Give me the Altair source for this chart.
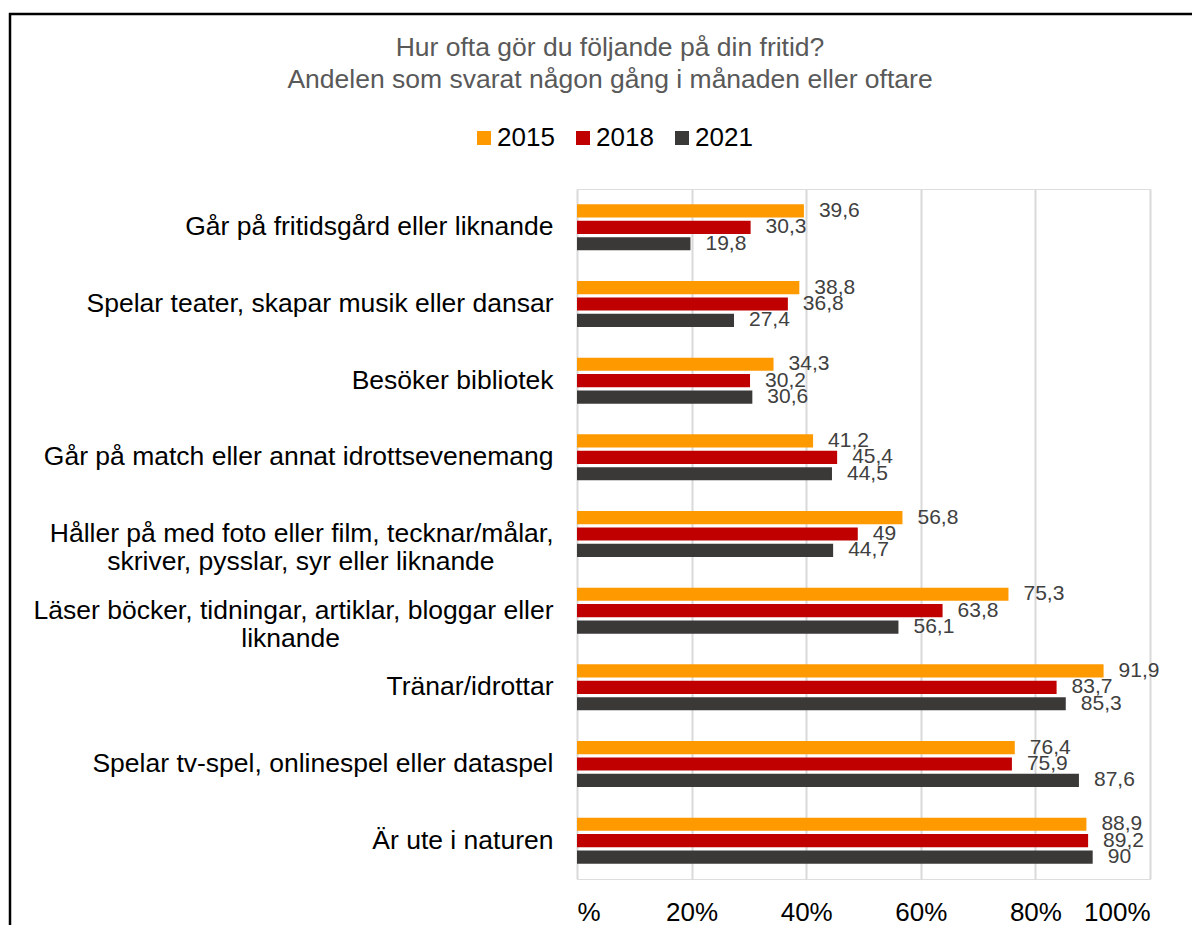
import altair as alt
import pandas as pd

# trailing no-break spaces (kept from trimming by a zero-width space) centre the short 2nd lines
NB = "\u00a0"
ZW = "\u200b"
categories = [
    "Går på fritidsgård eller liknande",
    "Spelar teater, skapar musik eller dansar",
    "Besöker bibliotek",
    "Går på match eller annat idrottsevenemang",
    "Håller på med foto eller film, tecknar/målar,\nskriver, pysslar, syr eller liknande" + NB * 8 + ZW,
    "Läser böcker, tidningar, artiklar, bloggar eller\nliknande" + NB * 29 + ZW,
    "Tränar/idrottar",
    "Spelar tv-spel, onlinespel eller dataspel",
    "Är ute i naturen",
]
years = ["2015", "2018", "2021"]
v2015 = [39.6, 38.8, 34.3, 41.2, 56.8, 75.3, 91.9, 76.4, 88.9]
v2018 = [30.3, 36.8, 30.2, 45.4, 49.0, 63.8, 83.7, 75.9, 89.2]
v2021 = [19.8, 27.4, 30.6, 44.5, 44.7, 56.1, 85.3, 87.6, 90.0]
colors = ["#FF9900", "#C00000", "#3B3838"]
title_lines = [
    "Hur ofta gör du följande på din fritid?",
    "Andelen som svarat någon gång i månaden eller oftare",
]
x_ticks = [0, 20, 40, 60, 80, 100]

rows = []
for yr, vals in zip(years, [v2015, v2018, v2021]):
    for c, v in zip(categories, vals):
        rows.append({"category": c, "year": yr, "value": v,
                     "label": f"{v:g}".replace(".", ",")})
df = pd.DataFrame(rows)

FONT = "Liberation Sans"

y_enc = alt.Y(
    "category:N", sort=categories, title=None,
    scale=alt.Scale(paddingInner=0.4, paddingOuter=0.2),
    axis=alt.Axis(domain=False, ticks=False, grid=False, labelFontSize=26.5,
                  labelColor="black", labelPadding=24, labelLimit=0,
                  labelLineHeight=28, labelFont=FONT,
                  labelExpr="split(datum.label, '\\n')"),
)
yoff_enc = alt.YOffset("year:N", sort=years,
                       scale=alt.Scale(paddingInner=0.2, paddingOuter=0))
x_enc = alt.X(
    "value:Q", title=None, scale=alt.Scale(domain=[0, 100]),
    axis=alt.Axis(values=x_ticks, domain=False, ticks=False, grid=True,
                  gridColor="#D9D9D9", gridWidth=2, labelFontSize=26,
                  labelColor="black", labelPadding=20, labelFont=FONT,
                  labelExpr="datum.value == 0 ? '%' : datum.value + '%'"),
)

base = alt.Chart(df).encode(y=y_enc, yOffset=yoff_enc)

bars = base.mark_bar().encode(
    x=x_enc,
    color=alt.Color(
        "year:N", sort=years,
        scale=alt.Scale(domain=years, range=colors),
        legend=alt.Legend(orient="none", legendX=-106, legendY=-64,
                          direction="horizontal", title=None,
                          symbolType="square", symbolSize=196,
                          symbolStrokeWidth=0, labelFontSize=26,
                          labelColor="black", labelFont=FONT,
                          columnPadding=15, labelOffset=0),
    ),
)

labels = base.mark_text(align="left", dx=15, fontSize=21, color="#404040",
                        font=FONT, baseline="middle").encode(
    x="value:Q", text="label:N")

one = pd.DataFrame({"k": [0]})
title = alt.Chart(one).mark_text(
    align="center", baseline="middle", fontSize=26.5, lineHeight=32,
    color="#595959", font=FONT,
).encode(x=alt.value(33), y=alt.value(-141), text=alt.value(title_lines))

border = alt.Chart(one).mark_rect(
    fillOpacity=0, stroke="black", strokeWidth=2.5
).encode(x=alt.value(-567), x2=alt.value(700),
         y=alt.value(-175), y2=alt.value(800))

chart = alt.layer(border, bars, labels, title).properties(
    width=573, height=690, autosize="none",
    padding={"left": 569, "top": 181, "right": 42, "bottom": 46},
    background="white",
).configure_view(stroke=None).configure(font=FONT)

chart.save("out.html", embed_options={"renderer": "svg", "actions": False})
